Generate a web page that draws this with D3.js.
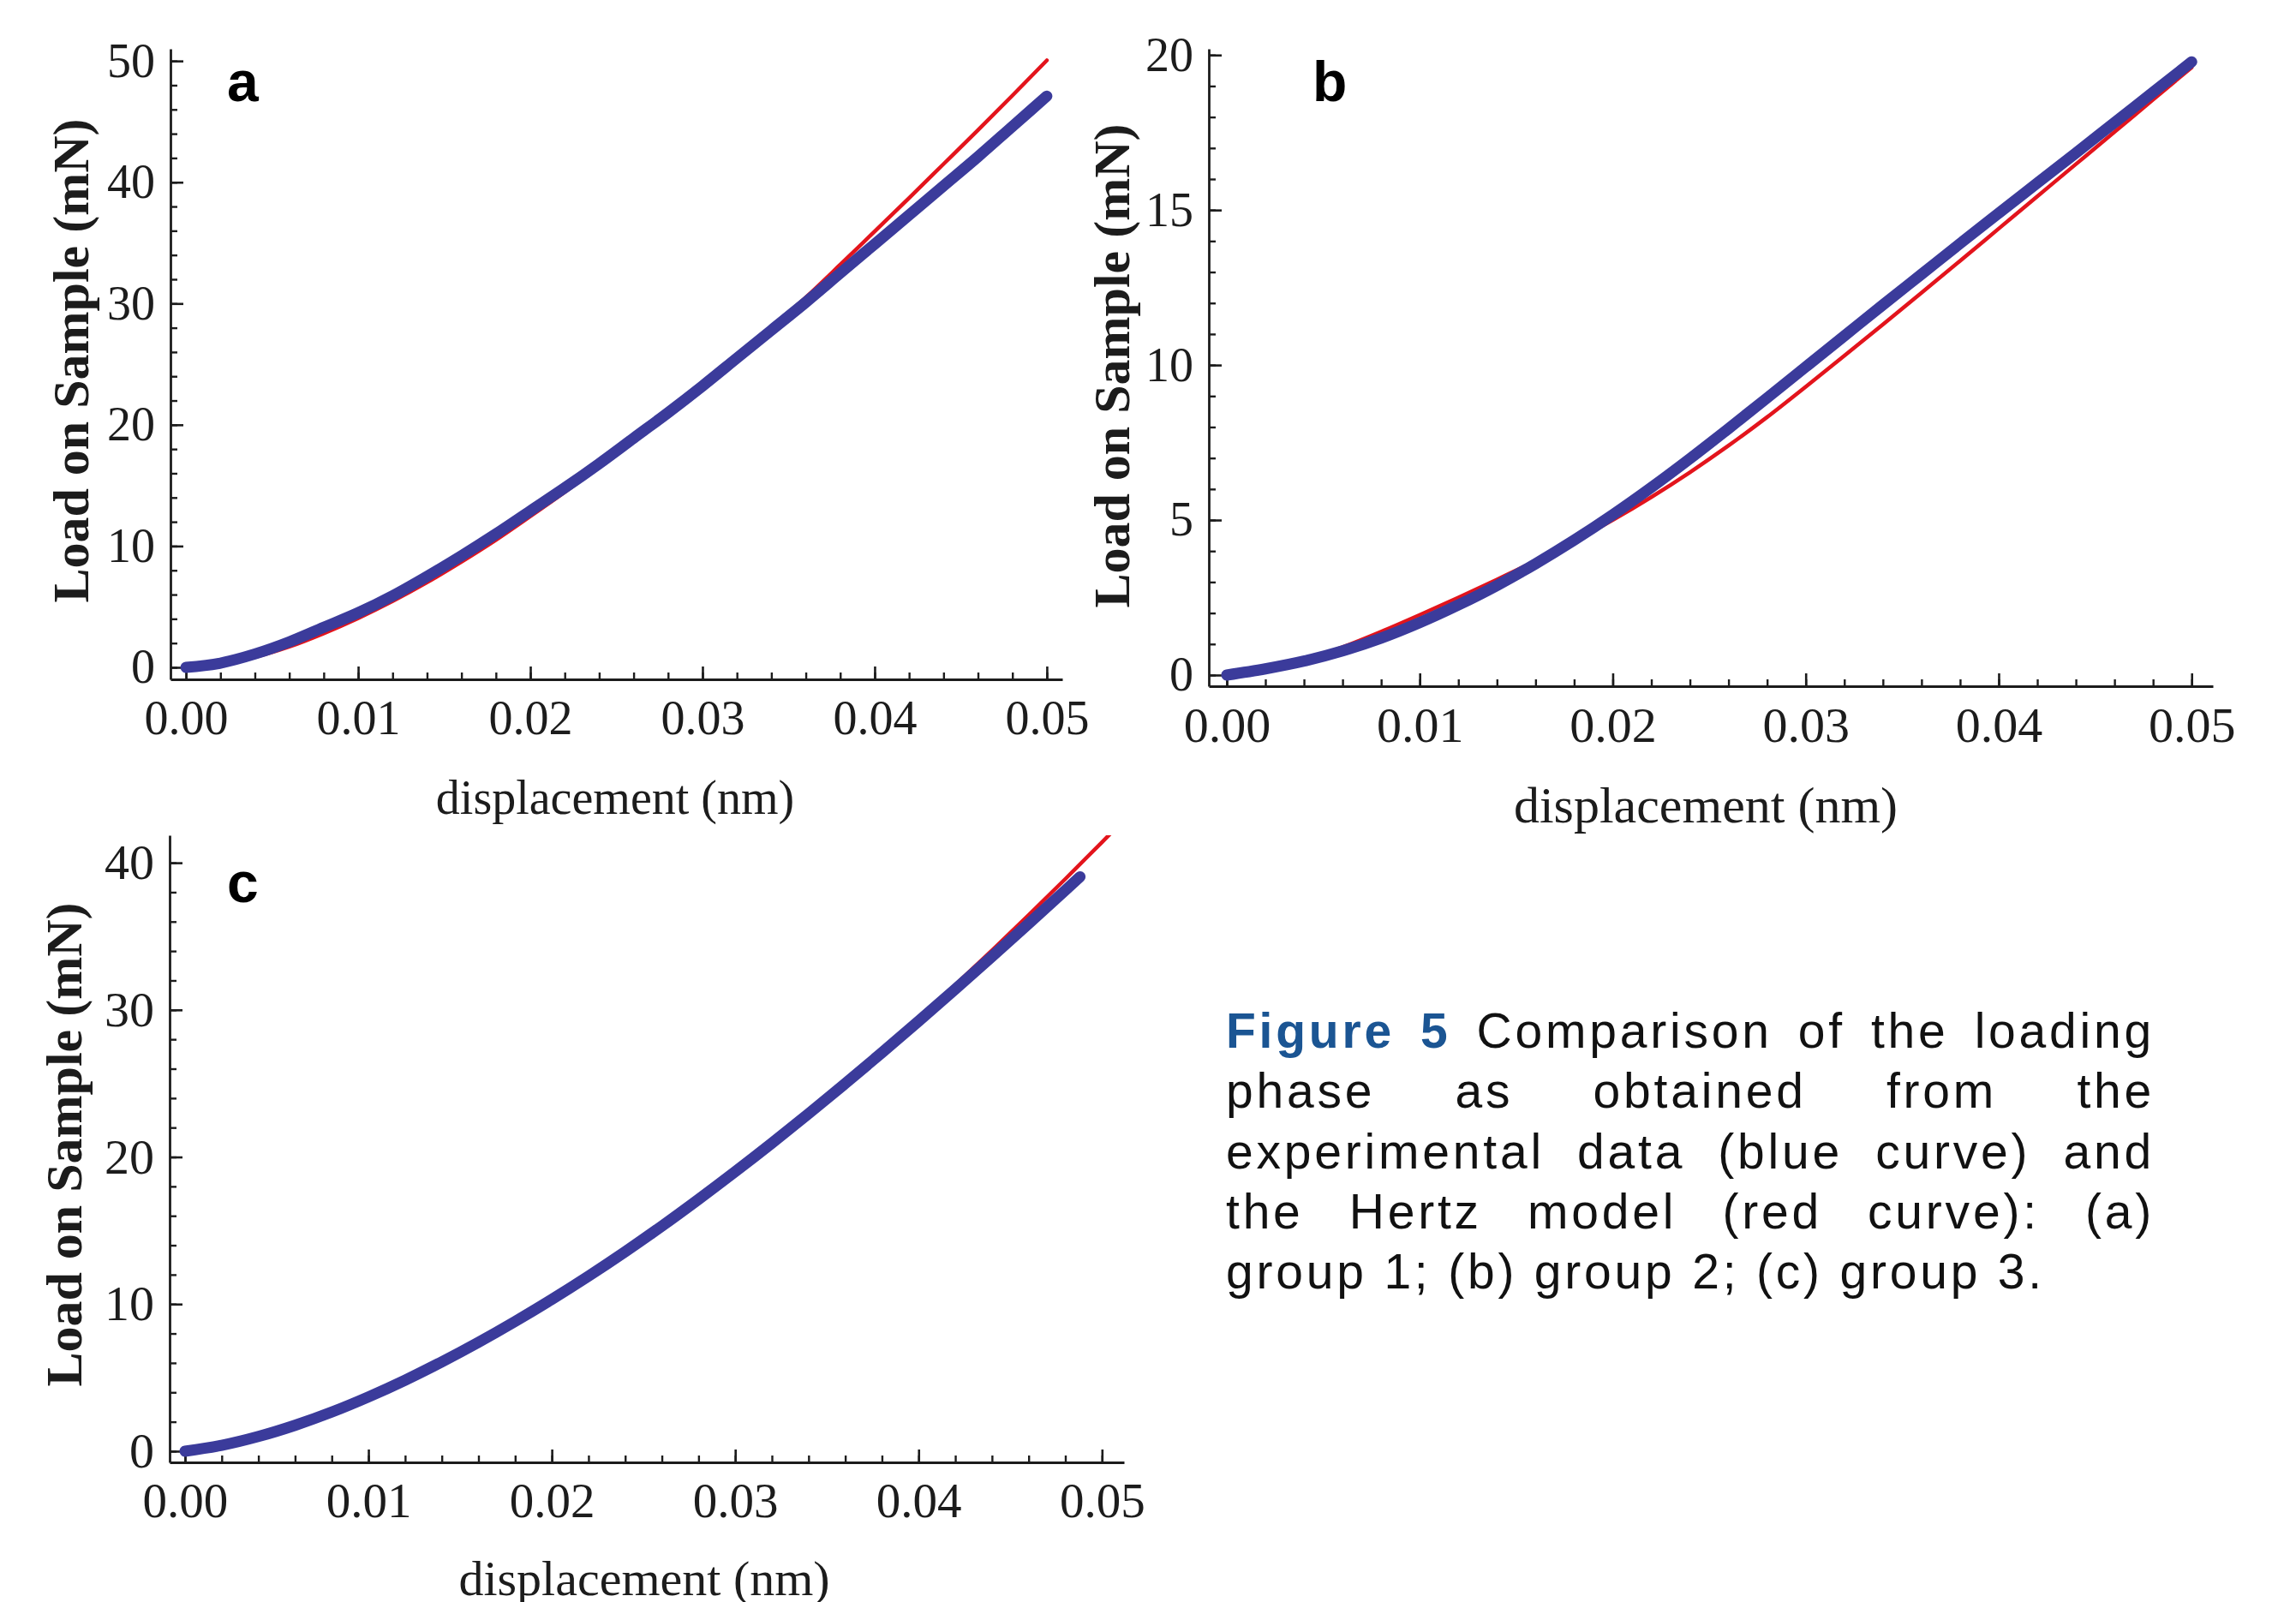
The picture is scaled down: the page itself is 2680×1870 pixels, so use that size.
<!DOCTYPE html>
<html>
<head>
<meta charset="utf-8">
<script src="https://cdn.jsdelivr.net/npm/d3@7"></script>
<style>
    body { margin: 0; background: #fff; }
</style>
</head>
<body>
<div id="chart"></div>
<script>

// displacement (nm) grid
var displacement = [0, 0.002, 0.004, 0.006, 0.008, 0.010, 0.012, 0.014, 0.016, 0.018,
    0.020, 0.022, 0.024, 0.026, 0.028, 0.030, 0.032, 0.034, 0.036, 0.038,
    0.040, 0.042, 0.044, 0.046, 0.048, 0.050];

// group 1 (a)
var expA = [0, 0.35, 1.1, 2.1, 3.3, 4.5, 5.9, 7.5, 9.2, 11.0,
    12.9, 14.8, 16.8, 18.9, 21.0, 23.2, 25.5, 27.8, 30.1, 32.5,
    34.9, 37.3, 39.7, 42.1, 44.6, 47.1];
var hertzA = [0, 0.25, 0.85, 1.7, 2.8, 4.05, 5.45, 7.0, 8.7, 10.5,
    12.45, 14.45, 16.55, 18.7, 20.95, 23.25, 25.6, 28.0, 30.5, 33.2,
    35.95, 38.7, 41.5, 44.3, 47.15, 50.05];

// group 2 (b)
var expB = [0, 0.2, 0.45, 0.78, 1.19, 1.69, 2.26, 2.89, 3.59, 4.35,
    5.17, 6.05, 6.98, 7.95, 8.94, 9.94, 10.94, 11.94, 12.93, 13.92,
    14.9, 15.87, 16.84, 17.82, 18.8, 19.78];
var hertzB = [0, 0.15, 0.47, 0.9, 1.4, 1.94, 2.5, 3.08, 3.68, 4.32,
    5.0, 5.74, 6.54, 7.4, 8.32, 9.3, 10.3, 11.31, 12.33, 13.36,
    14.4, 15.44, 16.48, 17.52, 18.56, 19.6];

// group 3 (c) - experimental stops a bit short of 0.05, the model runs off the top
var dispExpC = [0, 0.002, 0.004, 0.006, 0.008, 0.010, 0.012, 0.014, 0.016, 0.018,
    0.020, 0.022, 0.024, 0.026, 0.028, 0.030, 0.032, 0.034, 0.036, 0.038,
    0.040, 0.042, 0.044, 0.046, 0.048, 0.0488];
var expC = [0, 0.4, 1.0, 1.76, 2.66, 3.69, 4.83, 6.07, 7.4, 8.82,
    10.32, 11.9, 13.56, 15.3, 17.12, 19.0, 20.94, 22.94, 24.99, 27.09,
    29.23, 31.41, 33.62, 35.86, 38.13, 39.05];
var dispHertzC = [0, 0.002, 0.004, 0.006, 0.008, 0.010, 0.012, 0.014, 0.016, 0.018,
    0.020, 0.022, 0.024, 0.026, 0.028, 0.030, 0.032, 0.034, 0.036, 0.038,
    0.040, 0.042, 0.044, 0.046, 0.048, 0.050, 0.052];
var hertzC = [0, 0.36, 0.96, 1.72, 2.62, 3.65, 4.79, 6.03, 7.36, 8.78,
    10.28, 11.86, 13.52, 15.26, 17.08, 18.96, 20.9, 22.91, 24.98, 27.15,
    29.4, 31.7, 34.05, 36.45, 38.9, 41.4, 43.95];

// tick labels
var xTicks = [0, 0.01, 0.02, 0.03, 0.04, 0.05];
var yTicksA = [0, 10, 20, 30, 40, 50];
var yTicksB = [0, 5, 10, 15, 20];
var yTicksC = [0, 10, 20, 30, 40];

var xTitle = "displacement (nm)";
var yTitle = "Load on Sample (mN)";

var captionLines = [
    ["Figure", "5", "Comparison", "of", "the", "loading"],
    ["phase", "as", "obtained", "from", "the"],
    ["experimental", "data", "(blue", "curve)", "and"],
    ["the", "Hertz", "model", "(red", "curve):", "(a)"],
    ["group", "1;", "(b)", "group", "2;", "(c)", "group", "3."]
];

var serif = "'Liberation Serif', 'Times New Roman', serif";
var sans = "'Liberation Sans', Arial, sans-serif";
var blue = "#3b3b9b";
var red = "#e3141c";
var ink = "#1c1c1c";

var svg = d3.select("#chart").append("svg")
    .attr("width", 2680)
    .attr("height", 1870)
    .style("background", "#fff");

var panels = [
    {
        id: "a", left: 199, right: 1240, top: 57, bottom: 793,
        xDom: [-0.0009, 0.0509], yDom: [-0.99, 51.0],
        yTicks: yTicksA, yMinorStep: 2, yMax: 50,
        exp: { x: displacement, y: expA }, hertz: { x: displacement, y: hertzA },
        letter: [265, 118], yTitlePos: [103, 421], xTitlePos: [718, 950],
        yTickFont: 56, xTickFont: 56, xTitleFont: 56
    },
    {
        id: "b", left: 1411, right: 2583, top: 57, bottom: 801,
        xDom: [-0.00093, 0.0511], yDom: [-0.36, 20.2],
        yTicks: yTicksB, yMinorStep: 1, yMax: 20,
        exp: { x: displacement, y: expB }, hertz: { x: displacement, y: hertzB },
        letter: [1532, 118], yTitlePos: [1318, 427], xTitlePos: [1991, 960],
        yTickFont: 56, xTickFont: 58, xTitleFont: 60
    },
    {
        id: "c", left: 198, right: 1312, top: 975, bottom: 1707,
        xDom: [-0.00084, 0.0512], yDom: [-0.76, 41.87],
        yTicks: yTicksC, yMinorStep: 2, yMax: 40,
        exp: { x: dispExpC, y: expC }, hertz: { x: dispHertzC, y: hertzC },
        letter: [265, 1053], yTitlePos: [95, 1336], xTitlePos: [752, 1862],
        yTickFont: 58, xTickFont: 57, xTitleFont: 58
    }
];

function drawPanel(p) {

    var x = d3.scaleLinear().domain(p.xDom).range([p.left, p.right]);
    var y = d3.scaleLinear().domain(p.yDom).range([p.bottom, p.top]);

    var g = svg.append("g").attr("class", "panel-" + p.id);

    g.append("clipPath")
        .attr("id", "clip-" + p.id)
        .append("rect")
        .attr("x", p.left)
        .attr("y", p.top)
        .attr("width", p.right - p.left)
        .attr("height", p.bottom - p.top);

    var xMinor = d3.range(0, 26).map(function (i) { return i * 0.002; });
    var yMinor = d3.range(0, p.yMax + 0.001, p.yMinorStep);

    // minor ticks, pointing into the plot
    g.append("g")
        .attr("transform", "translate(0," + p.bottom + ")")
        .style("color", ink)
        .call(d3.axisBottom(x).tickValues(xMinor).tickSize(-8).tickFormat(""))
        .call(function (s) { s.select(".domain").remove(); })
        .selectAll("line").attr("stroke-width", 2.4);

    g.append("g")
        .attr("transform", "translate(" + p.left + ",0)")
        .style("color", ink)
        .call(d3.axisLeft(y).tickValues(yMinor).tickSize(-8).tickFormat(""))
        .call(function (s) { s.select(".domain").remove(); })
        .selectAll("line").attr("stroke-width", 2.4);

    // major ticks + labels
    var xAxis = d3.axisBottom(x).tickValues(xTicks).tickSize(-15).tickSizeOuter(0)
        .tickPadding(24).tickFormat(d3.format(".2f"));

    var gx = g.append("g")
        .attr("transform", "translate(0," + p.bottom + ")")
        .style("color", ink)
        .call(xAxis);
    gx.attr("font-family", serif).attr("font-size", p.xTickFont);
    gx.select(".domain").attr("stroke-width", 2.8);
    gx.selectAll(".tick line").attr("stroke-width", 2.6);
    gx.selectAll("text").attr("fill", ink);

    var yAxis = d3.axisLeft(y).tickValues(p.yTicks).tickSize(-15).tickSizeOuter(0)
        .tickPadding(18).tickFormat(d3.format("d"));

    var gy = g.append("g")
        .attr("transform", "translate(" + p.left + ",0)")
        .style("color", ink)
        .call(yAxis);
    gy.attr("font-family", serif).attr("font-size", p.yTickFont);
    gy.select(".domain").attr("stroke-width", 2.8);
    gy.selectAll(".tick line").attr("stroke-width", 2.6);
    gy.selectAll("text").attr("fill", ink);

    // curves
    var line = d3.line()
        .x(function (d) { return x(d[0]); })
        .y(function (d) { return y(d[1]); })
        .curve(d3.curveMonotoneX);

    var hertzData = d3.zip(p.hertz.x, p.hertz.y);
    var expData = d3.zip(p.exp.x, p.exp.y);

    var plot = g.append("g").attr("clip-path", "url(#clip-" + p.id + ")");

    plot.append("path")
        .datum(hertzData)
        .attr("d", line)
        .attr("fill", "none")
        .attr("stroke", red)
        .attr("stroke-width", 4.5)
        .attr("stroke-linecap", "round");

    plot.append("path")
        .datum(expData)
        .attr("d", line)
        .attr("fill", "none")
        .attr("stroke", blue)
        .attr("stroke-width", 13)
        .attr("stroke-linecap", "round")
        .attr("stroke-linejoin", "round");

    // titles
    g.append("text")
        .attr("transform", "translate(" + p.yTitlePos[0] + "," + p.yTitlePos[1] + ") rotate(-90)")
        .attr("text-anchor", "middle")
        .attr("font-family", serif)
        .attr("font-weight", "bold")
        .attr("font-size", 60)
        .attr("fill", ink)
        .text(yTitle);

    g.append("text")
        .attr("x", p.xTitlePos[0])
        .attr("y", p.xTitlePos[1])
        .attr("text-anchor", "middle")
        .attr("font-family", serif)
        .attr("font-size", p.xTitleFont)
        .attr("fill", ink)
        .text(xTitle);

    g.append("text")
        .attr("x", p.letter[0])
        .attr("y", p.letter[1])
        .attr("font-family", sans)
        .attr("font-weight", "bold")
        .attr("font-size", 66)
        .attr("fill", "#000")
        .text(p.id);
}

panels.forEach(drawPanel);

// caption, justified like the journal page
var capLeft = 1431, capRight = 2515, capTop = 1223, capStep = 70.3, capFont = 57;
var lastLineWidth = 956;

var cap = svg.append("g").attr("class", "caption")
    .attr("font-family", sans)
    .attr("font-size", capFont);

function wordWidth(w, ls, bold) {
    var t = cap.append("text").attr("letter-spacing", ls)
        .attr("font-weight", bold ? "bold" : "normal").text(w);
    var wd = t.node().getComputedTextLength();
    t.remove();
    return wd;
}

// pick the letter spacing so the last (unjustified) line has its width
var lastWords = captionLines[4];
var probeSpace = wordWidth("a a", 0, false) - 2 * wordWidth("a", 0, false);
var natural = d3.sum(lastWords, function (w) { return wordWidth(w, 0, false); })
    + probeSpace * (lastWords.length - 1);
var nChars = lastWords.join(" ").length;
var ls = (lastLineWidth - natural) / nChars;
var spaceW = probeSpace + ls;

captionLines.forEach(function (words, li) {
    var widths = words.map(function (w, wi) {
        return wordWidth(w, ls, li === 0 && wi < 2);
    });
    var gap = spaceW;
    if (li < captionLines.length - 1) {
        gap = (capRight - capLeft - d3.sum(widths)) / (words.length - 1);
    }
    var cx = capLeft;
    words.forEach(function (w, wi) {
        var hl = li === 0 && wi < 2;
        cap.append("text")
            .attr("x", cx)
            .attr("y", capTop + li * capStep)
            .attr("letter-spacing", ls)
            .attr("font-weight", hl ? "bold" : "normal")
            .attr("fill", hl ? "#1b5593" : "#111")
            .text(w);
        cx += widths[wi] + gap;
    });
});

</script>
</body>
</html>
